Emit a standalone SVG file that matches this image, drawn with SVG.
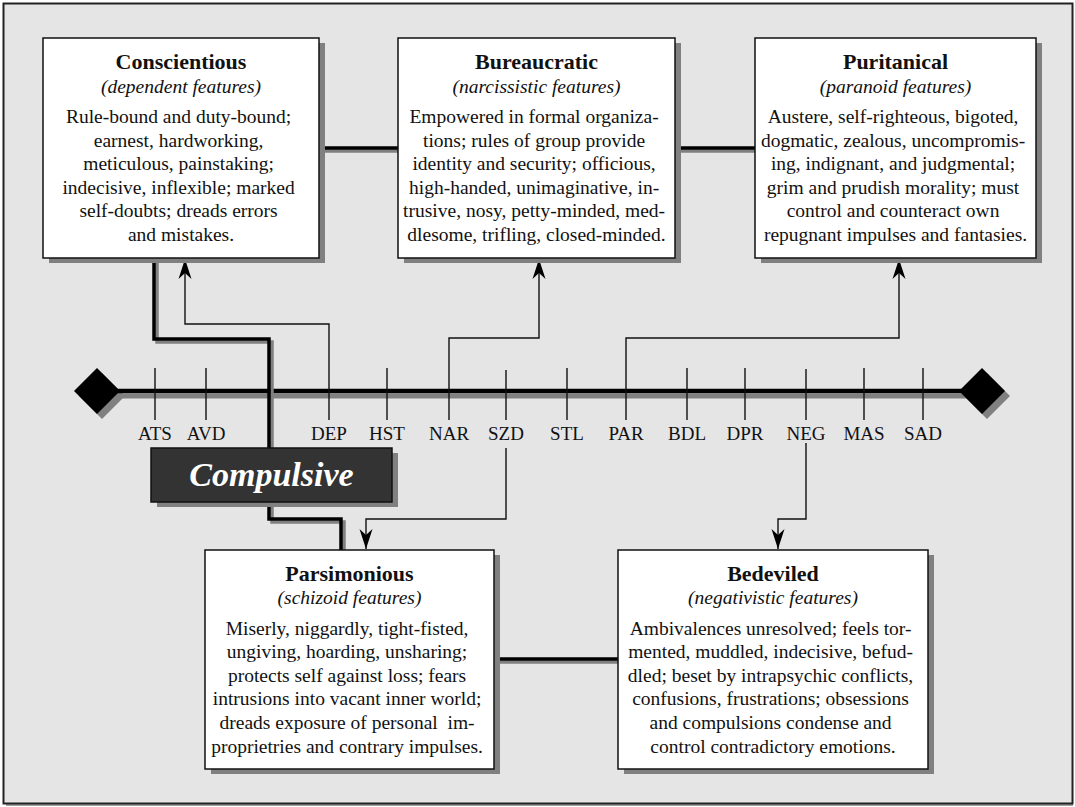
<svg xmlns="http://www.w3.org/2000/svg" width="1075" height="807" viewBox="0 0 1075 807">
<style>
.frame{fill:#e5e5e5;stroke:#222;stroke-width:2}
.box{fill:#fff;stroke:#111;stroke-width:1.5}
.sh{fill:#808080}
.cbox{fill:#333;stroke:#111;stroke-width:1.5}
text{font-family:"Liberation Serif","Times New Roman",serif;fill:#111;text-anchor:middle}
.title{font-weight:bold;font-size:22px}
.sub{font-style:italic;font-size:19.5px}
.body{font-size:19.5px}
.lbl{font-size:19px}
.comp{font-weight:bold;font-style:italic;font-size:34px;fill:#fff}
.thin{fill:none;stroke:#111;stroke-width:1.4}
.thick{fill:none;stroke:#000;stroke-width:3.5}
.thicksh{fill:none;stroke:#808080;stroke-width:3.5}
.axis{stroke:#000;stroke-width:4.5}
.axissh{stroke:#808080;stroke-width:5}
.tick{stroke:#111;stroke-width:1.4}
</style>
<defs>
<marker id="arr" markerUnits="userSpaceOnUse" viewBox="0 0 20 14" markerWidth="20" markerHeight="14" refX="20" refY="7" orient="auto">
<path d="M20,7 L0,0.5 L6,7 L0,13.5 Z" fill="#000"/>
</marker>
</defs>

<line x1="6" y1="805" x2="1073" y2="805" stroke="#808080" stroke-width="1.5"/>
<rect class="frame" x="3.5" y="3.5" width="1069" height="800"/>

<g id="axis">
<line class="axissh" x1="102" y1="396" x2="987" y2="396"/>
<polygon class="sh" points="102,373 125,396 102,419 79,396"/>
<polygon class="sh" points="987,373 1010,396 987,419 964,396"/>
<line class="axis" x1="97" y1="391" x2="982" y2="391"/>
<polygon points="97,368 120,391 97,414 74,391" fill="#000"/>
<polygon points="982,368 1005,391 982,414 959,391" fill="#000"/>
<g class="tick">
<line x1="155" y1="368" x2="155" y2="420"/>
<line x1="206" y1="368" x2="206" y2="420"/>
<line x1="387" y1="368" x2="387" y2="420"/>
<line x1="506" y1="370" x2="506" y2="420"/>
<line x1="567" y1="368" x2="567" y2="420"/>
<line x1="687" y1="368" x2="687" y2="420"/>
<line x1="745" y1="368" x2="745" y2="420"/>
<line x1="806" y1="369" x2="806" y2="420"/>
<line x1="864" y1="368" x2="864" y2="420"/>
<line x1="923" y1="368" x2="923" y2="420"/>
</g>
<g class="lbl">
<text class="lbl" x="155" y="440">ATS</text>
<text class="lbl" x="206" y="440">AVD</text>
<text class="lbl" x="329" y="440">DEP</text>
<text class="lbl" x="387" y="440">HST</text>
<text class="lbl" x="449" y="440">NAR</text>
<text class="lbl" x="506" y="440">SZD</text>
<text class="lbl" x="567" y="440">STL</text>
<text class="lbl" x="626" y="440">PAR</text>
<text class="lbl" x="687" y="440">BDL</text>
<text class="lbl" x="745" y="440">DPR</text>
<text class="lbl" x="806" y="440">NEG</text>
<text class="lbl" x="864" y="440">MAS</text>
<text class="lbl" x="923" y="440">SAD</text>
</g>
</g>

<g id="connectors">
<path class="thicksh" d="M322,151 H401 M678,151 H758 M497,662 H621"/>
<path class="thick" d="M319,148 H398 M675,148 H755 M494,659 H618"/>
<path class="thicksh" d="M157,258 V342 H272 V451"/>
<path class="thicksh" d="M272,505 V522 H344 V550"/>
<path class="thick" d="M154,258 V339 H269 V448"/>
<path class="thick" d="M269,502 V519 H341 V550"/>
<path class="thin" d="M329,420 V324 H185 V259" marker-end="url(#arr)"/>
<path class="thin" d="M449,420 V338 H539 V259" marker-end="url(#arr)"/>
<path class="thin" d="M626,420 V338 H899 V259" marker-end="url(#arr)"/>
<path class="thin" d="M506,448 V519 H366 V549" marker-end="url(#arr)"/>
<path class="thin" d="M806,443 V519 H778 V549" marker-end="url(#arr)"/>
</g>

<g id="conscientious">
<rect class="sh" x="49" y="43" width="276" height="220"/>
<rect class="box" x="43" y="38" width="276" height="220"/>
<text class="title" x="181" y="69">Conscientious</text>
<text class="sub" x="181" y="93">(dependent features)</text>
<text class="body">
<tspan x="181" y="123">Rule-bound and duty-bound;</tspan>
<tspan x="181" y="146.6">earnest, hardworking,</tspan>
<tspan x="181" y="170.2">meticulous, painstaking;</tspan>
<tspan x="181" y="193.8">indecisive, inflexible; marked</tspan>
<tspan x="181" y="217.4">self-doubts; dreads errors</tspan>
<tspan x="181" y="241">and mistakes.</tspan>
</text>
</g>

<g id="bureaucratic">
<rect class="sh" x="404" y="43" width="277" height="220"/>
<rect class="box" x="398" y="38" width="277" height="220"/>
<text class="title" x="536.5" y="69">Bureaucratic</text>
<text class="sub" x="536.5" y="93">(narcissistic features)</text>
<text class="body">
<tspan x="536.5" y="123">Empowered in formal organiza-</tspan>
<tspan x="536.5" y="146.6">tions; rules of group provide</tspan>
<tspan x="536.5" y="170.2">identity and security; officious,</tspan>
<tspan x="536.5" y="193.8">high-handed, unimaginative, in-</tspan>
<tspan x="536.5" y="217.4">trusive, nosy, petty-minded, med-</tspan>
<tspan x="536.5" y="241">dlesome, trifling, closed-minded.</tspan>
</text>
</g>

<g id="puritanical">
<rect class="sh" x="761" y="43" width="281" height="220"/>
<rect class="box" x="755" y="38" width="281" height="220"/>
<text class="title" x="895.5" y="69">Puritanical</text>
<text class="sub" x="895.5" y="93">(paranoid features)</text>
<text class="body">
<tspan x="895.5" y="123">Austere, self-righteous, bigoted,</tspan>
<tspan x="895.5" y="146.6">dogmatic, zealous, uncompromis-</tspan>
<tspan x="895.5" y="170.2">ing, indignant, and judgmental;</tspan>
<tspan x="895.5" y="193.8">grim and prudish morality; must</tspan>
<tspan x="895.5" y="217.4">control and counteract own</tspan>
<tspan x="895.5" y="241">repugnant impulses and fantasies.</tspan>
</text>
</g>

<g id="compulsive">
<rect class="sh" x="157" y="453" width="241" height="54"/>
<rect class="cbox" x="151" y="448" width="241" height="54"/>
<text class="comp" x="271.5" y="486">Compulsive</text>
</g>

<g id="parsimonious">
<rect class="sh" x="211" y="555" width="289" height="219"/>
<rect class="box" x="205" y="550" width="289" height="219"/>
<text class="title" x="349.5" y="581">Parsimonious</text>
<text class="sub" x="349.5" y="603.5">(schizoid features)</text>
<text class="body" xml:space="preserve">
<tspan x="349.5" y="634.5">Miserly, niggardly, tight-fisted,</tspan>
<tspan x="349.5" y="658.1">ungiving, hoarding, unsharing;</tspan>
<tspan x="349.5" y="681.7">protects self against loss; fears</tspan>
<tspan x="349.5" y="705.3">intrusions into vacant inner world;</tspan>
<tspan x="349.5" y="728.9">dreads exposure of personal  im-</tspan>
<tspan x="349.5" y="752.5">proprietries and contrary impulses.</tspan>
</text>
</g>

<g id="bedeviled">
<rect class="sh" x="624" y="555" width="310" height="219"/>
<rect class="box" x="618" y="550" width="310" height="219"/>
<text class="title" x="773" y="581">Bedeviled</text>
<text class="sub" x="773" y="603.5">(negativistic features)</text>
<text class="body">
<tspan x="773" y="634.5">Ambivalences unresolved; feels tor-</tspan>
<tspan x="773" y="658.1">mented, muddled, indecisive, befud-</tspan>
<tspan x="773" y="681.7">dled; beset by intrapsychic conflicts,</tspan>
<tspan x="773" y="705.3">confusions, frustrations; obsessions</tspan>
<tspan x="773" y="728.9">and compulsions condense and</tspan>
<tspan x="773" y="752.5">control contradictory emotions.</tspan>
</text>
</g>
</svg>
